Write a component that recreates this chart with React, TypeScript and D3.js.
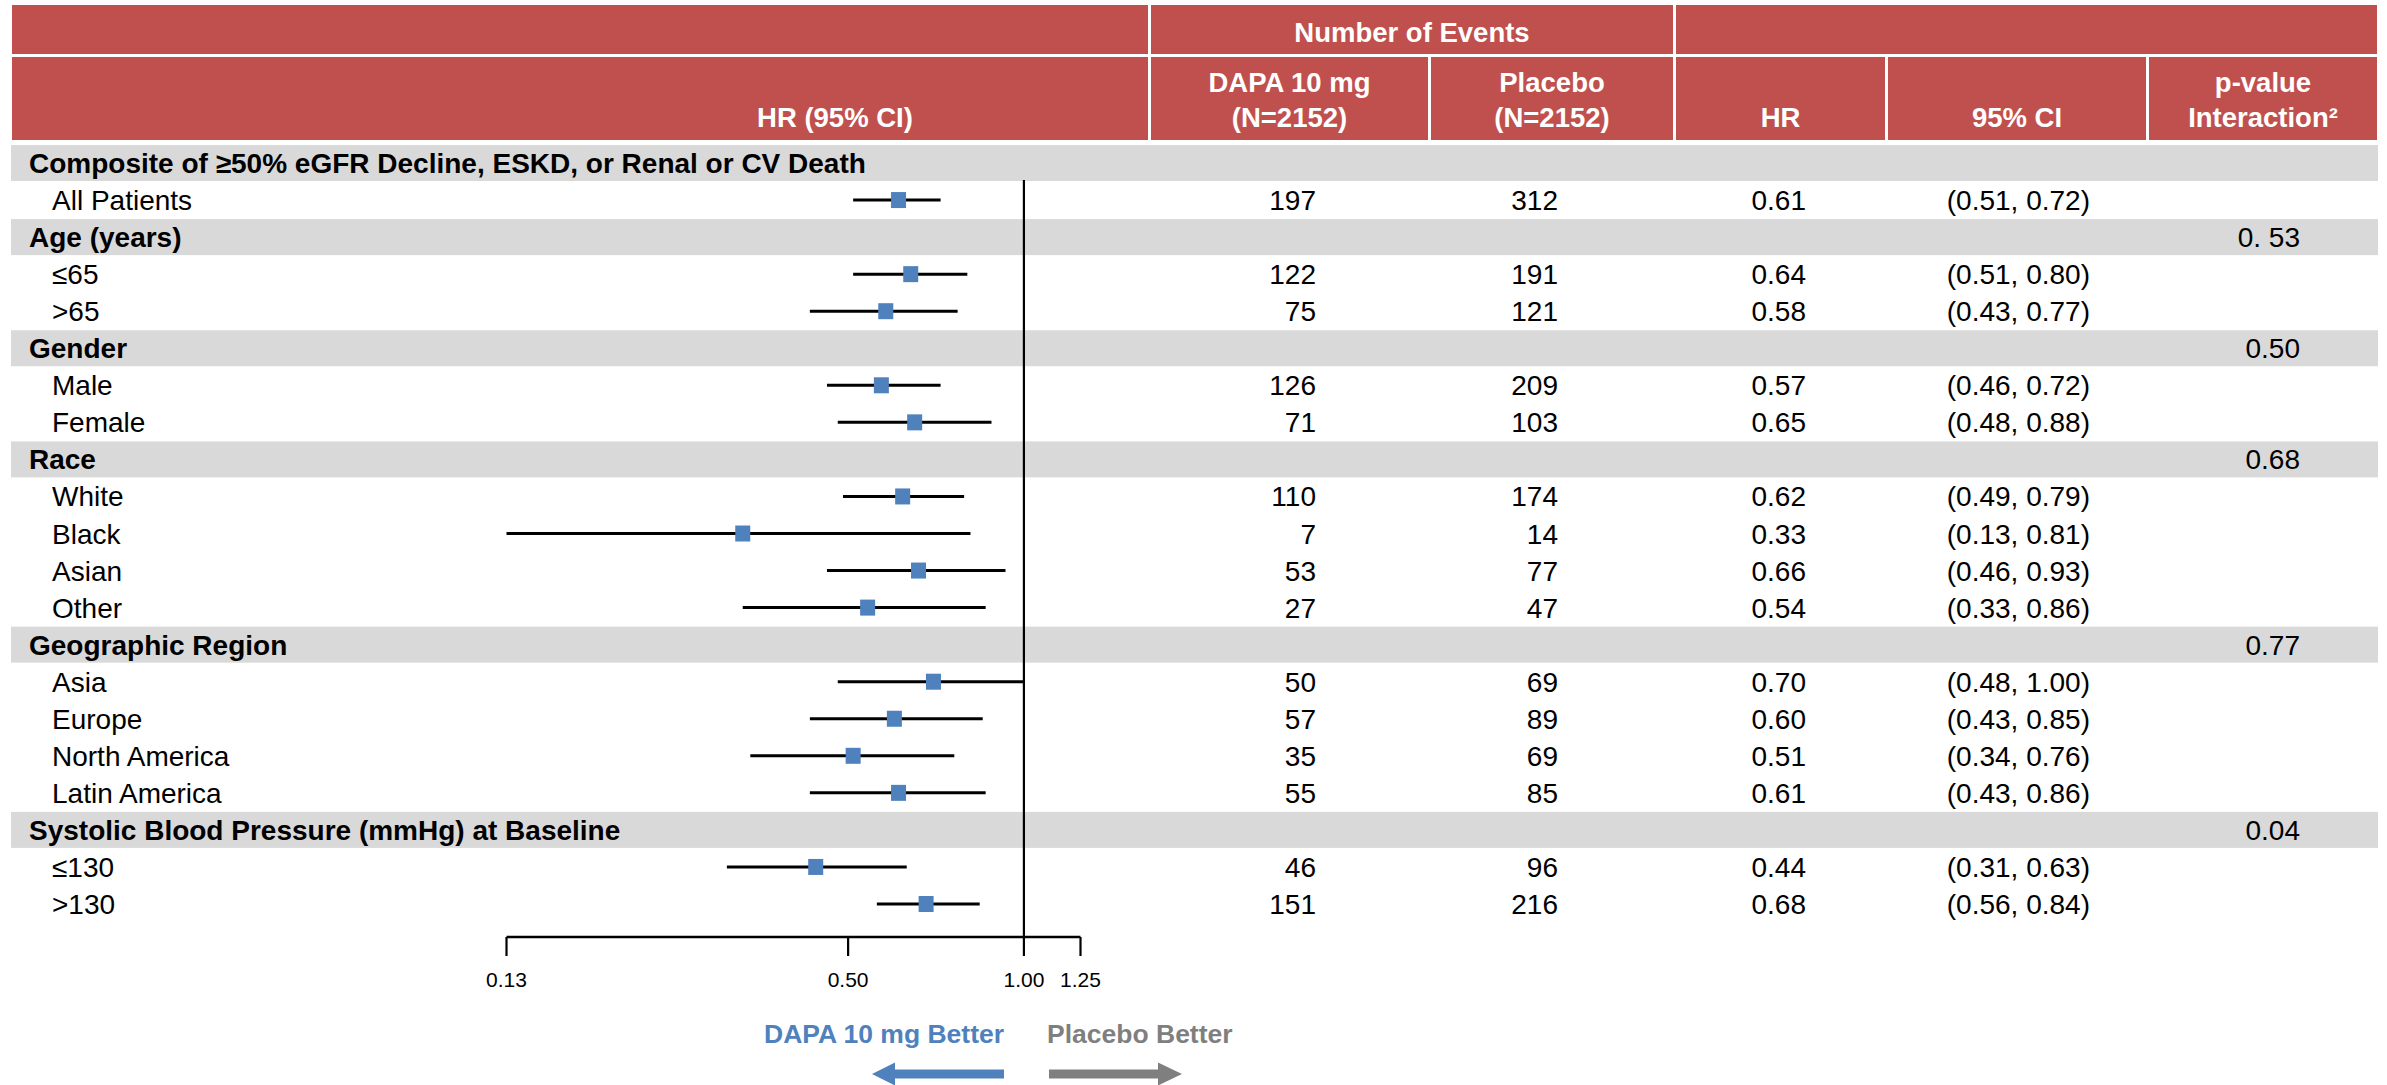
import React from "react";
import * as d3 from "d3";

// ---------- data ----------
const rowLabels = [
  "Composite of ≥50% eGFR Decline, ESKD, or Renal or CV Death",
  "All Patients",
  "Age (years)",
  "≤65",
  ">65",
  "Gender",
  "Male",
  "Female",
  "Race",
  "White",
  "Black",
  "Asian",
  "Other",
  "Geographic Region",
  "Asia",
  "Europe",
  "North America",
  "Latin America",
  "Systolic Blood Pressure (mmHg) at Baseline",
  "≤130",
  ">130",
];
const groupRow = [true, false, true, false, false, true, false, false, true, false, false, false, false, true, false, false, false, false, true, false, false];
const dapaEvents = [null, 197, null, 122, 75, null, 126, 71, null, 110, 7, 53, 27, null, 50, 57, 35, 55, null, 46, 151];
const placeboEvents = [null, 312, null, 191, 121, null, 209, 103, null, 174, 14, 77, 47, null, 69, 89, 69, 85, null, 96, 216];
const hrValues = [null, 0.61, null, 0.64, 0.58, null, 0.57, 0.65, null, 0.62, 0.33, 0.66, 0.54, null, 0.70, 0.60, 0.51, 0.61, null, 0.44, 0.68];
const ciLow = [null, 0.51, null, 0.51, 0.43, null, 0.46, 0.48, null, 0.49, 0.13, 0.46, 0.33, null, 0.48, 0.43, 0.34, 0.43, null, 0.31, 0.56];
const ciHigh = [null, 0.72, null, 0.80, 0.77, null, 0.72, 0.88, null, 0.79, 0.81, 0.93, 0.86, null, 1.00, 0.85, 0.76, 0.86, null, 0.63, 0.84];
const pInteraction = ["", "", "0. 53", "", "", "0.50", "", "", "0.68", "", "", "", "", "0.77", "", "", "", "", "0.04", "", ""];
const tickValues = [0.13, 0.5, 1.0, 1.25];
const tickLabels = ["0.13", "0.50", "1.00", "1.25"];

// ---------- style ----------
const RED = "#C0504D";
const GRAY_BAND = "#D9D9D9";
const BLUE = "#4F81BD";
const ARROW_GRAY = "#7F7F7F";
const FONT = "'Liberation Sans', Arial, Helvetica, sans-serif";

export default function App() {
  const W = 2387;
  const H = 1085;
  const x = d3.scaleLog().domain([0.13, 1.25]).range([506.5, 1080.5]);
  const y = d3.scaleLinear().domain([0, rowLabels.length - 1]).range([163, 904]);
  const axisY = 937;
  const fmt = d3.format(".2f");

  const headerCells1 = [
    { x0: 12, x1: 1148, label: "" },
    { x0: 1151, x1: 1673, label: "Number of Events" },
    { x0: 1676, x1: 2377, label: "" },
  ];
  const headerCells2 = [
    { x0: 12, x1: 1148, lines: [] as string[] },
    { x0: 1151, x1: 1428, lines: ["DAPA 10 mg", "(N=2152)"] },
    { x0: 1431, x1: 1673, lines: ["Placebo", "(N=2152)"] },
    { x0: 1676, x1: 1885, lines: ["HR"] },
    { x0: 1888, x1: 2146, lines: ["95% CI"] },
    { x0: 2149, x1: 2377, lines: ["p-value", "Interaction²"] },
  ];

  const hdrFont = 27.5;
  const rowFont = 28;

  return (
    <svg
      width={W}
      height={H}
      style={{ position: "absolute", left: 0, top: 0, background: "#fff" }}
      fontFamily={FONT}
    >
      <rect x={0} y={0} width={W} height={H} fill="#fff" />
      {/* header row 1 */}
      {headerCells1.map((c, i) => (
        <g key={"h1" + i}>
          <rect x={c.x0} y={5} width={c.x1 - c.x0} height={49} fill={RED} />
          {c.label && (
            <text x={(c.x0 + c.x1) / 2} y={42} textAnchor="middle" fill="#fff" fontWeight="bold" fontSize={hdrFont}>
              {c.label}
            </text>
          )}
        </g>
      ))}
      {/* header row 2 */}
      {headerCells2.map((c, i) => (
        <g key={"h2" + i}>
          <rect x={c.x0} y={57} width={c.x1 - c.x0} height={83} fill={RED} />
          {c.lines.map((ln, j) => (
            <text
              key={j}
              x={(c.x0 + c.x1) / 2}
              y={127 - (c.lines.length - 1 - j) * 35}
              textAnchor="middle"
              fill="#fff"
              fontWeight="bold"
              fontSize={hdrFont}
            >
              {ln}
            </text>
          ))}
        </g>
      ))}
      <text x={835} y={127} textAnchor="middle" fill="#fff" fontWeight="bold" fontSize={hdrFont}>
        HR (95% CI)
      </text>

      {/* group bands */}
      {rowLabels.map((_, i) =>
        groupRow[i] ? (
          <rect key={"band" + i} x={11} y={y(i) - 18} width={2367} height={36} fill={GRAY_BAND} />
        ) : null
      )}

      {/* reference line at 1.00 */}
      <line x1={x(1)} x2={x(1)} y1={180} y2={axisY} stroke="#000" strokeWidth={2.2} />

      {/* rows */}
      {rowLabels.map((lab, i) => {
        const cy = y(i);
        const base = cy + 10;
        return (
          <g key={"row" + i}>
            <text
              x={groupRow[i] ? 29 : 52}
              y={base}
              fontSize={rowFont}
              fontWeight={groupRow[i] ? "bold" : "normal"}
              fill="#000"
            >
              {lab}
            </text>
            {dapaEvents[i] !== null && (
              <text x={1316} y={base} textAnchor="end" fontSize={rowFont}>
                {dapaEvents[i]}
              </text>
            )}
            {placeboEvents[i] !== null && (
              <text x={1558} y={base} textAnchor="end" fontSize={rowFont}>
                {placeboEvents[i]}
              </text>
            )}
            {hrValues[i] !== null && (
              <text x={1806} y={base} textAnchor="end" fontSize={rowFont}>
                {fmt(hrValues[i] as number)}
              </text>
            )}
            {ciLow[i] !== null && (
              <text x={2090} y={base} textAnchor="end" fontSize={rowFont}>
                {`(${fmt(ciLow[i] as number)}, ${fmt(ciHigh[i] as number)})`}
              </text>
            )}
            {pInteraction[i] && (
              <text x={2300} y={base} textAnchor="end" fontSize={rowFont}>
                {pInteraction[i]}
              </text>
            )}
            {hrValues[i] !== null && (
              <g>
                <line
                  x1={x(ciLow[i] as number)}
                  x2={x(ciHigh[i] as number)}
                  y1={cy}
                  y2={cy}
                  stroke="#000"
                  strokeWidth={3}
                />
                <rect x={x(hrValues[i] as number) - 7.5} y={cy - 8} width={15} height={16} fill={BLUE} />
              </g>
            )}
          </g>
        );
      })}

      {/* axis */}
      <line x1={x(0.13)} x2={x(1.25)} y1={axisY} y2={axisY} stroke="#000" strokeWidth={2.5} />
      {tickValues.map((t, i) => (
        <g key={"tick" + i}>
          <line x1={x(t)} x2={x(t)} y1={axisY} y2={956} stroke="#000" strokeWidth={2.2} />
          <text x={x(t)} y={987} textAnchor="middle" fontSize={21} fill="#000">
            {tickLabels[i]}
          </text>
        </g>
      ))}

      {/* direction labels */}
      <text x={764} y={1043} fontSize={26.5} fontWeight="bold" fill={BLUE}>
        DAPA 10 mg Better
      </text>
      <text x={1047} y={1043} fontSize={26.5} fontWeight="bold" fill={ARROW_GRAY}>
        Placebo Better
      </text>
      {/* arrows */}
      <polygon
        points={`872,1074 895,1062.5 895,1069.5 1004,1069.5 1004,1078.5 895,1078.5 895,1085.5`}
        fill={BLUE}
      />
      <polygon
        points={`1182,1074 1158,1062.5 1158,1069.5 1049,1069.5 1049,1078.5 1158,1078.5 1158,1085.5`}
        fill={ARROW_GRAY}
      />
    </svg>
  );
}
